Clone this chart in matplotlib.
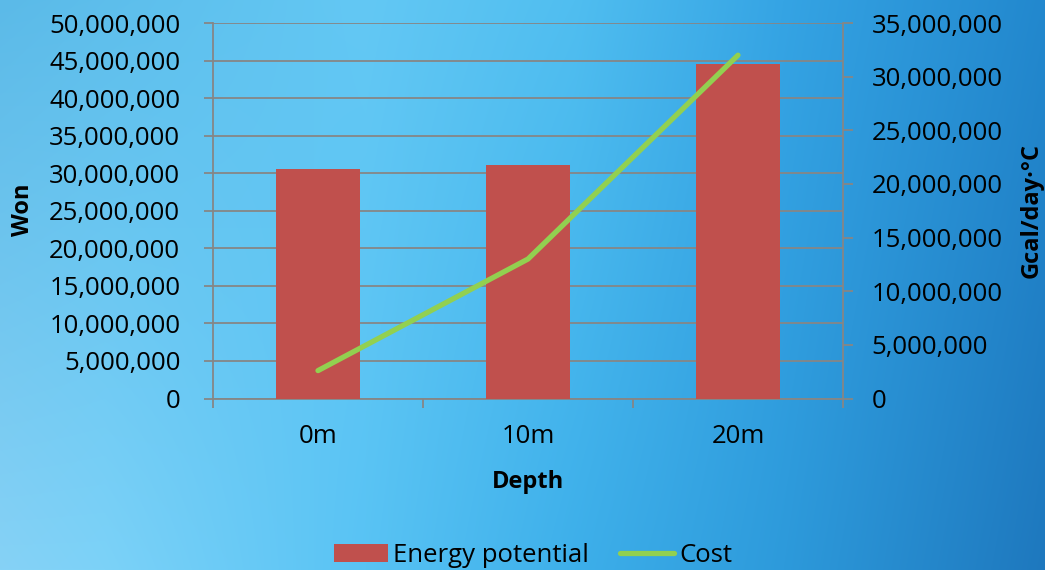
import numpy as np
import matplotlib
matplotlib.use("Agg")
import matplotlib.pyplot as plt
from matplotlib.ticker import FuncFormatter, FixedLocator
from matplotlib.colors import to_rgb

plt.rcParams['font.family'] = ['Open Sans', 'DejaVu Sans']

# ---- data ----
categories = ["0m", "10m", "20m"]
energy_potential = [30560000, 31100000, 44540000]   # bars, left axis
cost = [2600000, 13000000, 32000000]                 # line, right axis
left_ticks = [0, 5e6, 10e6, 15e6, 20e6, 25e6, 30e6, 35e6, 40e6, 45e6, 50e6]
right_ticks = [0, 5e6, 10e6, 15e6, 20e6, 25e6, 30e6, 35e6]

W, H, DPI = 1045, 570, 100
fig = plt.figure(figsize=(W / DPI, H / DPI), dpi=DPI)

# ---- gradient background ----
def ramp(stops, n):
    xs = np.linspace(0, 1, n)
    pos = [s[0] for s in stops]
    cols = np.array([to_rgb(s[1]) for s in stops])
    return np.stack([np.interp(xs, pos, cols[:, k]) for k in range(3)], axis=1)

top = ramp([(0, "#5BBAE8"), (0.35, "#63C8F4"), (0.55, "#50BEF0"), (0.75, "#35A4E4"), (1.0, "#2288CE")], W)
bot = ramp([(0, "#86D2F6"), (0.1, "#7CD2F8"), (0.35, "#58C3F4"), (0.55, "#3DAFEA"), (0.75, "#2D9ADB"), (1.0, "#1E78BE")], W)
t = np.linspace(0, 1, H)[:, None, None]
img = (1 - t) * top[None, :, :] + t * bot[None, :, :]
bg = fig.add_axes([0, 0, 1, 1], zorder=-10)
bg.imshow(img, aspect='auto', extent=[0, 1, 0, 1], origin='upper')
bg.axis('off')

# ---- main axes ----
left, right, bottom_px, top_px = 213, 843, 398.5, 23
ax = fig.add_axes([left / W, 1 - bottom_px / H, (right - left) / W, (bottom_px - top_px) / H])
ax.set_facecolor('none')
gray = "#868686"
FS = 18.5

x = np.arange(len(categories))
ax.bar(x, energy_potential, width=0.4, color="#C0504D", zorder=3, label="Energy potential")
ax.set_xlim(-0.5, len(categories) - 0.5)
ax.set_ylim(0, 50e6)
ax.yaxis.set_major_locator(FixedLocator(left_ticks))
ax.yaxis.set_major_formatter(FuncFormatter(lambda v, p: f"{int(round(v)):,}"))
ax.set_axisbelow(True)
ax.grid(axis='y', color=gray, linewidth=1.3, zorder=0)
ax.set_xticks(x)
ax.set_xticklabels(categories)
ax.set_xticks(np.arange(len(categories) + 1) - 0.5, minor=True)
ax.tick_params(axis='x', which='major', length=0, pad=18.5, labelsize=FS, colors='black')
ax.tick_params(axis='x', which='minor', length=6.5, width=1.3, color=gray, direction='out')
ax.tick_params(axis='y', which='major', length=6.5, width=1.3, color=gray, direction='out',
               pad=17, labelsize=FS, labelcolor='black')
for s in ['top', 'right']:
    ax.spines[s].set_visible(False)
for s in ['left', 'bottom']:
    ax.spines[s].set_color(gray)
    ax.spines[s].set_linewidth(1.3)

ax2 = ax.twinx()
ax2.plot(x, cost, color="#92D050", linewidth=3.8, solid_capstyle='round', label="Cost", zorder=4)
ax2.set_ylim(0, 35e6)
ax2.yaxis.set_major_locator(FixedLocator(right_ticks))
ax2.yaxis.set_major_formatter(FuncFormatter(lambda v, p: f"{int(round(v)):,}"))
ax2.tick_params(axis='y', which='major', length=7, width=1.3, color=gray, direction='out',
                pad=13.5, labelsize=FS, labelcolor='black')
for s in ['top', 'left', 'bottom']:
    ax2.spines[s].set_visible(False)
ax2.spines['right'].set_color(gray)
ax2.spines['right'].set_linewidth(1.3)

# ---- axis titles ----
fig.text(528 / W, 1 - 482 / H, "Depth", ha='center', va='center', fontsize=17, fontweight='bold')
fig.text(11 / W, 1 - 210 / H, "Won", ha='left', va='center', rotation=90, fontsize=17, fontweight='bold')
fig.text(1044 / W, 1 - 211 / H, "Gcal/day·°C", ha='right', va='center', rotation=90,
         fontsize=17, fontweight='bold')

# ---- legend ----
h1, l1 = ax.get_legend_handles_labels()
h2, l2 = ax2.get_legend_handles_labels()
fig.legend(h1 + h2, l1 + l2, loc='center', bbox_to_anchor=(533 / W, 1 - 555 / H), ncol=2,
           frameon=False, fontsize=FS, handlelength=2.1, handleheight=0.7, handletextpad=0.2,
           columnspacing=1.2, borderpad=0)

fig.savefig("out.png", dpi=DPI)
